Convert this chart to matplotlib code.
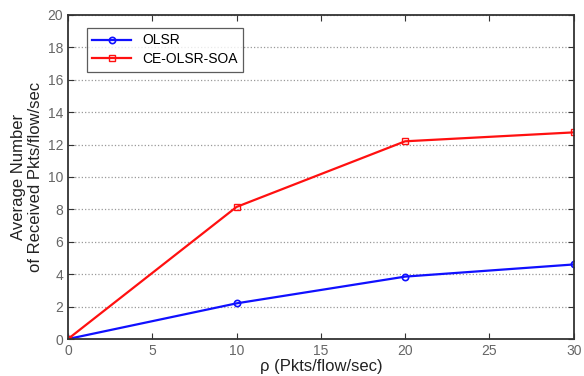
import matplotlib
matplotlib.use('Agg')
import matplotlib.pyplot as plt

plt.rcParams['font.family'] = ['Liberation Sans', 'DejaVu Sans']

rho = [0, 10, 20, 30]
olsr = [0, 2.2, 3.85, 4.6]
ce_olsr_soa = [0, 8.15, 12.2, 12.75]

fig = plt.figure(figsize=(5.84, 3.76), dpi=100)
ax = fig.add_axes([0.1164, 0.0984, 0.866, 0.862])

ax.plot(rho, olsr, color='#1010ff', lw=1.6, marker='o', ms=4.5,
        mfc='none', mew=1.2, label='OLSR')
ax.plot(rho, ce_olsr_soa, color='#ff1010', lw=1.6, marker='s', ms=5,
        mfc='none', mew=1.0, label='CE-OLSR-SOA')

ax.set_xlim(0, 30)
ax.set_ylim(0, 20)
ax.set_xticks(range(0, 31, 5))
ax.set_yticks(range(0, 21, 2))
ax.yaxis.grid(True, linestyle=':', color='#999999', lw=0.9)
ax.tick_params(direction='in', length=4, labelsize=10, colors='#333333',
               labelcolor='#666666', top=True, right=True)
for sp in ax.spines.values():
    sp.set_linewidth(1.3)
    sp.set_color('#333333')

ax.set_xlabel('ρ (Pkts/flow/sec)', fontsize=12, color='#222222', labelpad=1)
ax.set_ylabel('Average Number\nof Received Pkts/flow/sec', fontsize=12,
              color='#222222', labelpad=3)

leg = ax.legend(loc='upper left', bbox_to_anchor=(0.037, 0.96), borderaxespad=0,
                fontsize=10, fancybox=False, edgecolor='#333333',
                handlelength=2.8, borderpad=0.4, labelspacing=0.35)
leg.get_frame().set_linewidth(0.9)

fig.savefig('out.png', dpi=100)
